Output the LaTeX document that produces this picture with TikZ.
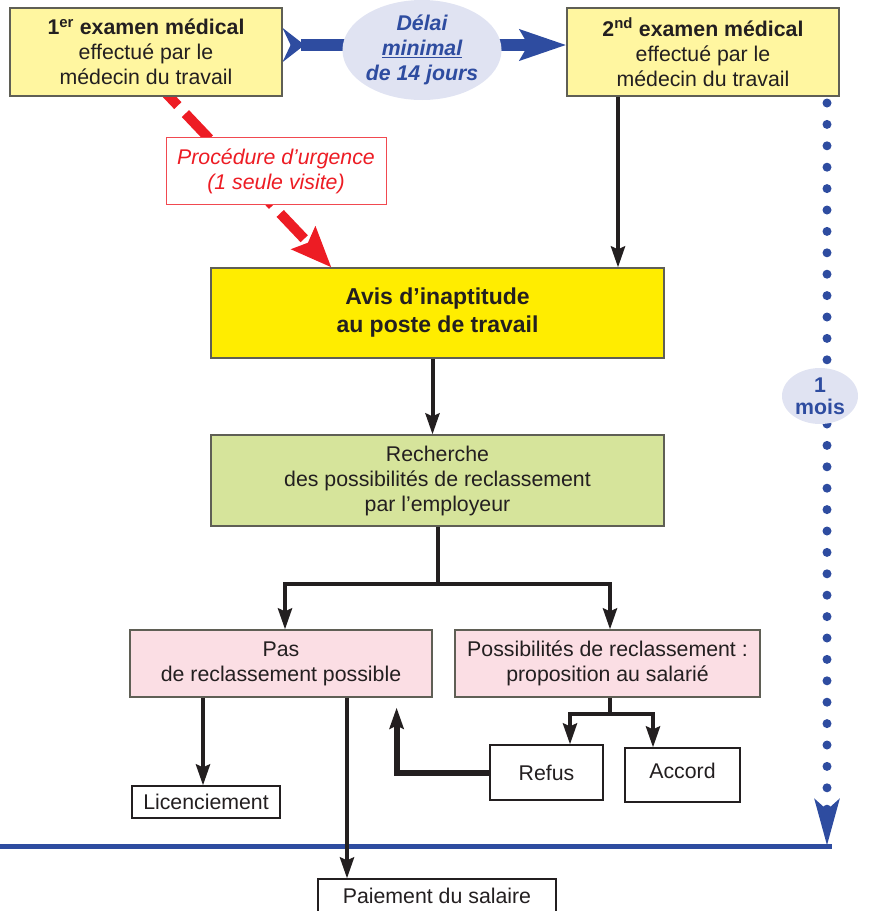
\documentclass[tikz,border=0pt]{standalone}
\usepackage{fontspec}
\setmainfont{Liberation Sans}
\usepackage{tikz}
\usetikzlibrary{shapes}
\usetikzlibrary{arrows.meta,calc,backgrounds}
\definecolor{ink}{RGB}{35,31,32}
\definecolor{boxline}{RGB}{95,95,85}
\definecolor{paleyellow}{RGB}{255,246,160}
\definecolor{avisyellow}{RGB}{255,237,0}
\definecolor{palegreen}{RGB}{214,228,155}
\definecolor{palepink}{RGB}{251,222,228}
\definecolor{lavender}{RGB}{224,227,242}
\definecolor{navy}{RGB}{46,76,160}
\definecolor{urgred}{RGB}{237,28,36}
\tikzstyle{Ebox}=[shape=rectangle,draw=boxline,line width=1.2pt,fill=paleyellow,text=ink,align=center,minimum width=272pt,minimum height=88pt,font=\fontsize{21.3}{25}\selectfont]
\tikzstyle{Sbox}=[shape=rectangle,draw=boxline,line width=1.2pt,text=ink,align=center,font=\fontsize{21.3}{25}\selectfont]
\tikzstyle{Wbox}=[shape=rectangle,draw=ink,line width=1.2pt,fill=white,text=ink,align=center,font=\fontsize{21.3}{25}\selectfont]
\tikzstyle{Bubble}=[shape=ellipse,fill=lavender,text=navy,inner sep=0pt,align=center,font=\fontsize{21.3}{25}\selectfont\bfseries]
\tikzstyle{blackarrow}=[ink,line width=4pt,-{Stealth[length=21pt,width=14pt,inset=3pt]}]
\tikzstyle{blackline}=[ink,line width=4pt]
\tikzstyle{delayarrow}=[navy,line width=12pt,{Stealth[reversed,length=22pt,width=34pt,inset=8pt]}-{Stealth[length=46pt,width=30pt,inset=8pt]}]
\tikzstyle{urgarrow}=[urgred,line width=10pt,dash pattern=on 34.9pt off 11pt,dash phase=3.2pt,-{Stealth[length=40pt,width=32pt,inset=6pt]}]
\tikzstyle{moisline}=[navy,line width=9pt,line cap=round,dash pattern=on 0pt off 21.4pt,-{Stealth[length=46pt,width=24pt,inset=10pt]}]

\begin{document}
\begin{tikzpicture}[x=1pt,y=-1pt]
\useasboundingbox (0,0) rectangle (875,911);

\node[Ebox] (EX1) at (146,52) {{\bfseries 1\textsuperscript{er} examen médical}\\effectué par le\\médecin du travail};
\node[Bubble,minimum width=150pt,minimum height=100pt] (DELAI) at (422,50) {\itshape Délai\\\itshape\underline{minimal}\\\itshape de 14 jours};
\node[Ebox] (EX2) at (703,52) {{\bfseries 2\textsuperscript{nd} examen médical}\\effectué par le\\médecin du travail};

\node[Wbox,draw=urgred!80,line width=1pt,text=urgred,minimum width=220pt,minimum height=67pt,font=\fontsize{21.3}{25}\selectfont\itshape] (URG) at (276,171) {Procédure d’urgence\\(1 seule visite)};

\node[Sbox,fill=avisyellow,minimum width=453pt,minimum height=90pt,font=\fontsize{23}{28}\selectfont\bfseries] (AVIS) at (437.5,313) {Avis d’inaptitude\\au poste de travail};
\node[Sbox,fill=palegreen,minimum width=453pt,minimum height=91pt] (RECH) at (437.5,480.5) {Recherche\\des possibilités de reclassement\\par l’employeur};

\node[Sbox,fill=palepink,minimum width=302pt,minimum height=67pt] (PAS) at (281,663.5) {Pas\\de reclassement possible};
\node[Sbox,fill=palepink,minimum width=305pt,minimum height=67pt] (POSS) at (607.5,663.5) {Possibilités de reclassement :\\proposition au salarié};

\node[Wbox,minimum width=113pt,minimum height=55pt] (REFUS) at (546.5,772.5) {Refus};
\node[Wbox,minimum width=115pt,minimum height=54pt,text depth=9pt] (ACCORD) at (682.5,775) {Accord};
\node[Wbox,minimum width=148pt,minimum height=32pt,inner sep=0pt] (LIC) at (206,802) {Licenciement};
\node[Wbox,minimum width=238pt,minimum height=34pt,inner sep=0pt] (PAIE) at (437,896) {Paiement du salaire};

\node[Bubble,minimum width=76pt,minimum height=56pt,font=\fontsize{21.3}{22}\selectfont\bfseries] (MOIS) at (820,396) {1\\mois};

\coordinate (DOTTOP) at (827,103);
\coordinate (DOTEND) at (827,846);
\coordinate (BASEL) at (0,846);
\coordinate (BASER) at (832,846);

\begin{pgfonlayer}{background}
\draw[delayarrow] ([yshift=7pt]EX1.east) -- ([yshift=7pt]EX2.west);
\draw[urgarrow] ($(EX1.south)+(10,-14)$) -- ($(AVIS.north west)+(121,0)$);
\draw[moisline] (DOTTOP) -- (DOTEND);
\draw[navy,line width=5pt] (BASEL) -- (BASER);
\end{pgfonlayer}

\path
([xshift=-85pt]EX2.south) edge [blackarrow] ([xshift=-85pt]EX2.south |- AVIS.north)
([xshift=-5pt]AVIS.south) edge [blackarrow] ([xshift=-5pt]RECH.north)
([xshift=-78pt]PAS.south) edge [blackarrow] ([xshift=-78pt]PAS.south |- LIC.north)
([xshift=66pt]PAS.south) edge [blackarrow] ([xshift=66pt]PAS.south |- PAIE.north);

\draw[blackline] (RECH.south) -- ++(0,57) coordinate (FORK1);
\draw[blackarrow] (FORK1) -| ([xshift=4pt]PAS.north);
\draw[blackarrow] (FORK1) -| ([xshift=2.5pt]POSS.north);

\draw[blackline] ([xshift=2.5pt]POSS.south) -- ++(0,16) coordinate (FORK2);
\draw[blackarrow] (FORK2) -| ([xshift=23.5pt]REFUS.north);
\draw[blackarrow] (FORK2) -| ([xshift=-29.5pt]ACCORD.north);

\draw[blackarrow,line width=6pt] (REFUS.west) -| ([xshift=-36pt,yshift=-10pt]PAS.south east);

\end{tikzpicture}
\end{document}
